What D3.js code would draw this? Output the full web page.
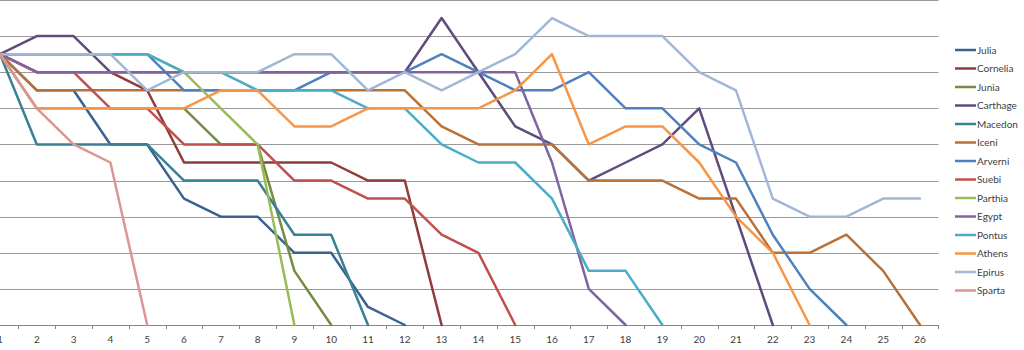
<!DOCTYPE html>
<html>
<head>
<meta charset="utf-8">
<script src="https://cdn.jsdelivr.net/npm/d3@7/dist/d3.min.js"></script>
<style>
  html, body { margin: 0; padding: 0; background: #fff; }
  svg { display: block; }
  text { font-family: Lato, "Liberation Sans", sans-serif; }
</style>
</head>
<body>
<svg id="chart" width="1024" height="350"></svg>
<script>
// Turn numbers shown along the bottom axis
const turns = [1, 2, 3, 4, 5, 6, 7, 8, 9, 10, 11, 12, 13, 14, 15, 16, 17, 18, 19, 20, 21, 22, 23, 24, 25, 26];

// Horizontal gridline values
const gridValues = [2, 4, 6, 8, 10, 12, 14, 16, 18];

// Per-faction values by turn (a series stops once it reaches zero)
const julia    = [15, 13, 13, 10, 10, 7, 6, 6, 4, 4, 1, 0];
const cornelia = [15, 14, 14, 14, 13, 9, 9, 9, 9, 9, 8, 8, 0];
const junia    = [15, 12, 12, 12, 12, 12, 10, 10, 3, 0];
const carthage = [15, 16, 16, 14, 14, 14, 14, 14, 14, 14, 14, 14, 17, 14, 11, 10, 8, 9, 10, 12, 6, 0];
const macedon  = [15, 10, 10, 10, 10, 8, 8, 8, 5, 5, 0];
const iceni    = [15, 13, 13, 13, 13, 13, 13, 13, 13, 13, 13, 13, 11, 10, 10, 10, 8, 8, 8, 7, 7, 4, 4, 5, 3, 0];
const arverni  = [15, 15, 15, 15, 15, 13, 13, 13, 13, 14, 14, 14, 15, 14, 13, 13, 14, 12, 12, 10, 9, 5, 2, 0];
const suebi    = [15, 14, 14, 12, 12, 10, 10, 10, 8, 8, 7, 7, 5, 4, 0];
const parthia  = [15, 15, 15, 15, 15, 14, 12, 10, 0];
const egypt    = [15, 14, 14, 14, 14, 14, 14, 14, 14, 14, 14, 14, 14, 14, 14, 9, 2, 0];
const pontus   = [15, 15, 15, 15, 15, 14, 14, 13, 13, 13, 12, 12, 10, 9, 9, 7, 3, 3, 0];
const athens   = [15, 12, 12, 12, 12, 12, 13, 13, 11, 11, 12, 12, 12, 12, 13, 15, 10, 11, 11, 9, 6, 4, 0];
const epirus   = [15, 15, 15, 15, 13, 14, 14, 14, 15, 15, 13, 14, 13, 14, 15, 17, 16, 16, 16, 14, 13, 7, 6, 6, 7, 7];
const sparta   = [15, 12, 10, 9, 0];

const seriesNames = ["Julia", "Cornelia", "Junia", "Carthage", "Macedon", "Iceni", "Arverni",
                     "Suebi", "Parthia", "Egypt", "Pontus", "Athens", "Epirus", "Sparta"];
const seriesValues = [julia, cornelia, junia, carthage, macedon, iceni, arverni,
                      suebi, parthia, egypt, pontus, athens, epirus, sparta];
const seriesColors = ["#3b628f", "#903c3a", "#748c43", "#604b7a", "#388195", "#b97135", "#4f81bd",
                      "#c0504d", "#9bbb59", "#8064a2", "#4bacc6", "#f79646", "#a2b7d6", "#d99694"];

const series = seriesNames.map((name, i) => ({
  name,
  color: seriesColors[i],
  points: seriesValues[i].map((v, j) => ({ turn: turns[j], value: v }))
}));

const svg = d3.select("#chart");

// Plot area: each turn occupies one band; points sit at band centres
const plotLeft = -18.4, plotRight = 938.4, plotTop = 0, plotBottom = 325;

const xBand = d3.scaleBand().domain(turns).range([plotLeft, plotRight]).paddingInner(0).paddingOuter(0);
const x = d => xBand(d) + xBand.bandwidth() / 2;
const y = d3.scaleLinear().domain([0, 18]).range([plotBottom, plotTop]);

// Gridlines
svg.append("g")
  .selectAll("line")
  .data(gridValues)
  .join("line")
  .attr("x1", plotLeft)
  .attr("x2", plotRight)
  .attr("y1", d => Math.round(y(d)) + 0.5)
  .attr("y2", d => Math.round(y(d)) + 0.5)
  .attr("stroke", "#9a9a9a")
  .attr("stroke-width", 1);

// Category axis
const xAxis = svg.append("g")
  .attr("transform", `translate(0,${plotBottom})`);

xAxis.append("line")
  .attr("x1", plotLeft).attr("x2", plotRight)
  .attr("y1", 0.5).attr("y2", 0.5)
  .attr("stroke", "#868686");

// Tick marks fall on the band boundaries
const boundaries = turns.map(t => xBand(t)).concat([xBand(turns[turns.length - 1]) + xBand.bandwidth()]);
xAxis.selectAll("line.tick")
  .data(boundaries)
  .join("line")
  .attr("class", "tick")
  .attr("x1", d => Math.round(d) + 0.5)
  .attr("x2", d => Math.round(d) + 0.5)
  .attr("y1", 0)
  .attr("y2", 4)
  .attr("stroke", "#868686");

xAxis.selectAll("text")
  .data(turns)
  .join("text")
  .attr("x", d => x(d))
  .attr("y", 18)
  .attr("text-anchor", "middle")
  .attr("font-size", 10)
  .attr("fill", "#404040")
  .text(d => d);

// Series lines
const line = d3.line()
  .x(d => x(d.turn))
  .y(d => y(d.value));

svg.append("g")
  .selectAll("path")
  .data(series)
  .join("path")
  .attr("d", d => line(d.points))
  .attr("fill", "none")
  .attr("stroke", d => d.color)
  .attr("stroke-width", 2.5)
  .attr("stroke-linejoin", "round")
  .attr("stroke-linecap", "round");

// Legend
const legend = svg.append("g");
const legendRow = legend.selectAll("g")
  .data(series)
  .join("g")
  .attr("transform", (d, i) => `translate(955,${50 + i * 18.5})`);

legendRow.append("line")
  .attr("x1", 0).attr("x2", 21)
  .attr("y1", 0).attr("y2", 0)
  .attr("stroke", d => d.color)
  .attr("stroke-width", 2.5);

legendRow.append("text")
  .attr("x", 22)
  .attr("y", 3.5)
  .attr("font-size", 10)
  .attr("fill", "#404040")
  .text(d => d.name);
</script>
</body>
</html>
